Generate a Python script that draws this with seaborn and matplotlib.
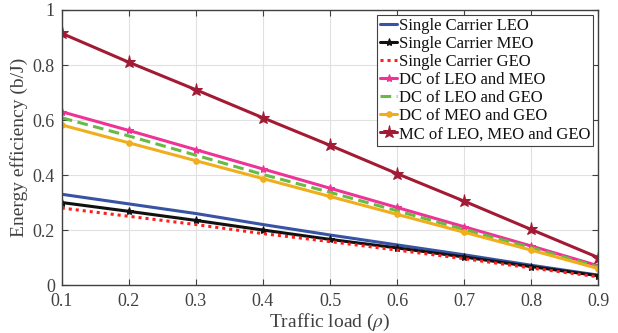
import pandas as pd
import numpy as np
import matplotlib
matplotlib.use("Agg")
import matplotlib.pyplot as plt
import seaborn as sns

# traffic load values on the x axis
load = [0.1, 0.2, 0.3, 0.4, 0.5, 0.6, 0.7, 0.8, 0.9]

# energy efficiency (b/J)
sc_leo = [0.33, 0.295, 0.26, 0.22, 0.182, 0.146, 0.11, 0.072, 0.036]
sc_meo = [0.30, 0.268, 0.235, 0.20, 0.166, 0.135, 0.102, 0.067, 0.034]
sc_geo = [0.28, 0.25, 0.22, 0.187, 0.158, 0.127, 0.096, 0.062, 0.03]
dc_leo_meo = [0.63, 0.562, 0.492, 0.422, 0.352, 0.282, 0.212, 0.142, 0.07]
dc_leo_geo = [0.608, 0.542, 0.472, 0.402, 0.337, 0.27, 0.202, 0.136, 0.066]
dc_meo_geo = [0.582, 0.517, 0.452, 0.387, 0.322, 0.257, 0.192, 0.127, 0.06]
mc_all = [0.915, 0.81, 0.71, 0.608, 0.508, 0.405, 0.305, 0.202, 0.10]

names = ["Single Carrier LEO", "Single Carrier MEO", "Single Carrier GEO",
         "DC of LEO and MEO", "DC of LEO and GEO", "DC of MEO and GEO",
         "MC of LEO, MEO and GEO"]
series = [sc_leo, sc_meo, sc_geo, dc_leo_meo, dc_leo_geo, dc_meo_geo, mc_all]

# line styles for each curve
styles = [
    dict(color="#3953a4", linestyle="-", marker=None),
    dict(color="#111111", linestyle="-", marker="*", markersize=6),
    dict(color="#ff1f1f", linestyle=(0, (1, 1.3)), marker=None),
    dict(color="#ef3396", linestyle="-", marker="*", markersize=6),
    dict(color="#66bb44", linestyle=(0, (3.5, 1.8)), marker=None),
    dict(color="#f0ae1c", linestyle="-", marker="o", markersize=4),
    dict(color="#a21a33", linestyle="-", marker="*", markersize=9.5),
]

sns.set_style("ticks")
plt.rcParams["font.family"] = ["Liberation Serif", "DejaVu Serif"]
plt.rcParams["mathtext.fontset"] = "stix"

grey = "#404040"
fig = plt.figure(figsize=(6.18, 3.33), dpi=100)
ax = fig.add_axes([0.100, 0.144, 0.868, 0.826])

for name, vals, st in zip(names, series, styles):
    sns.lineplot(x=load, y=vals, ax=ax, label=name, linewidth=2.2,
                 markeredgecolor=st["color"], **st)

ax.set_xlim(0.1, 0.9)
ax.set_ylim(0, 1)
ax.set_xticks(load)
ax.set_yticks([0, 0.2, 0.4, 0.6, 0.8, 1])
ax.set_xticklabels(["0.1", "0.2", "0.3", "0.4", "0.5", "0.6", "0.7", "0.8", "0.9"])
ax.set_yticklabels(["0", "0.2", "0.4", "0.6", "0.8", "1"])
ax.grid(True, color="#e0e0e0", linewidth=0.8)
ax.set_axisbelow(True)
ax.tick_params(direction="in", top=True, right=True, labelsize=13,
               colors=grey, length=4)
ax.tick_params(axis="x", pad=6)
ax.tick_params(axis="y", pad=5)
for s in ax.spines.values():
    s.set_color(grey)
    s.set_linewidth(1.0)

ax.set_xlabel(r"Traffic load ($\rho$)", fontsize=14, color=grey, labelpad=1)
ax.set_ylabel("Energy efficiency (b/J)", fontsize=14, color=grey, labelpad=3)

leg = ax.legend(loc="upper right", fontsize=12, handlelength=1.0,
                handletextpad=0.1, borderpad=0.2, labelspacing=0.12,
                fancybox=False, framealpha=1, borderaxespad=0.3)
leg.get_frame().set_edgecolor(grey)
leg.get_frame().set_linewidth(0.8)
for t in leg.get_texts():
    t.set_color("#111111")

fig.savefig("out.png", dpi=100)
